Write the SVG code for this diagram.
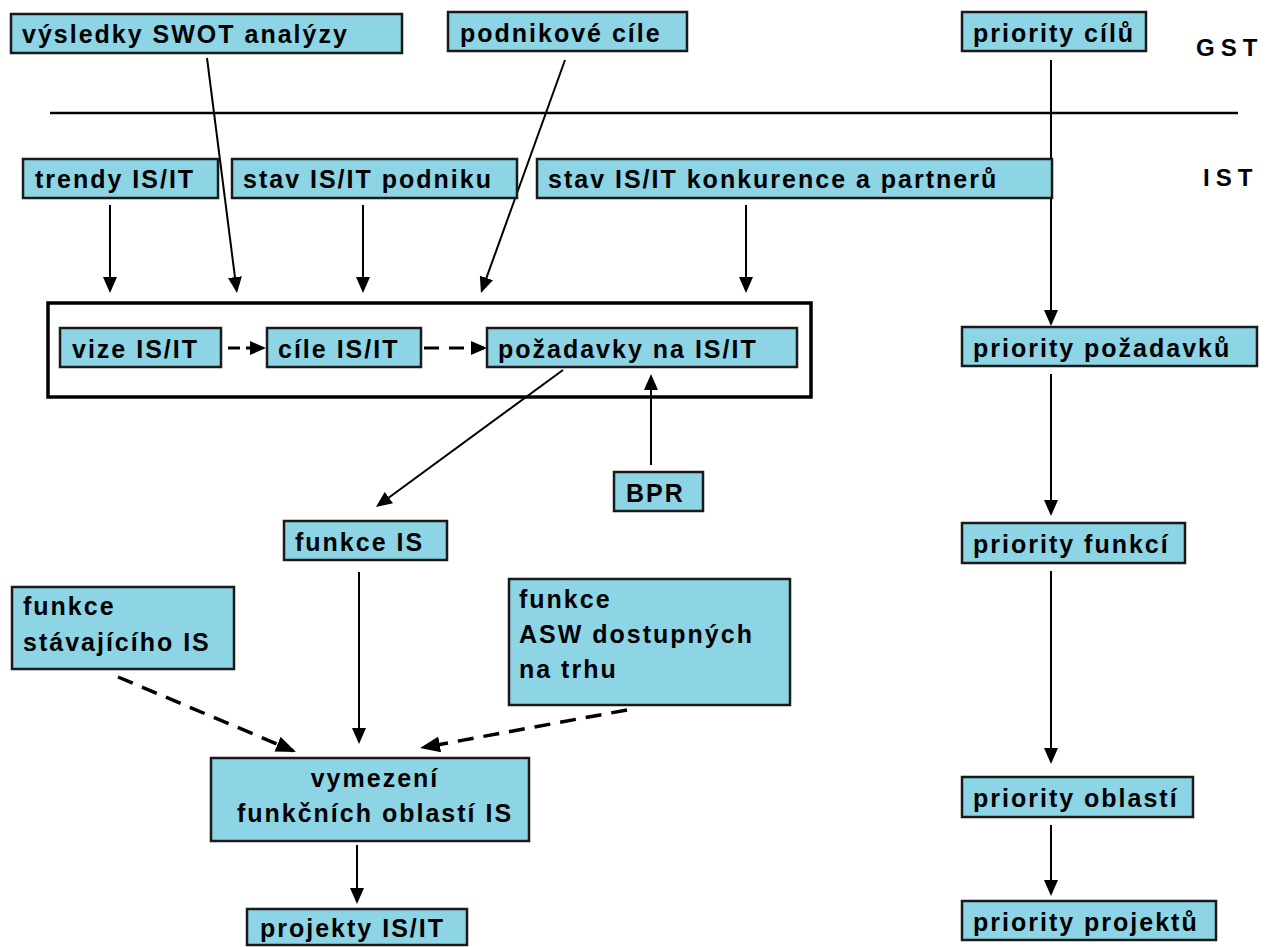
<svg xmlns="http://www.w3.org/2000/svg" width="1279" height="947" viewBox="0 0 1279 947">
  <style>
    .box { fill: #8DD4E5; stroke: #1a1a1a; stroke-width: 2.5; }
    .frame { fill: none; stroke: #000; stroke-width: 3.5; }
    .t { font-family: "Liberation Sans", Arial, sans-serif; font-weight: bold; font-size: 25px; letter-spacing: 2px; fill: #000; }
    .lbl { font-family: "Liberation Sans", Arial, sans-serif; font-weight: bold; font-size: 24px; letter-spacing: 6px; fill: #000; }
    .c { fill: none; stroke: #000; stroke-width: 2; marker-end: url(#ah); }
    .cd { fill: none; stroke: #000; stroke-width: 3; stroke-dasharray: 14 9; marker-end: url(#ah); }
    .cdb { fill: none; stroke: #000; stroke-width: 3.5; stroke-dasharray: 16 10; marker-end: url(#ahb); }
    .sep { stroke: #000; stroke-width: 2.5; }
  </style>
  <defs>
    <marker id="ah" viewBox="0 0 16 14" refX="13" refY="7" markerWidth="16" markerHeight="14" markerUnits="userSpaceOnUse" orient="auto">
      <path d="M0,0 L16,7 L0,14 Z" fill="#000"/>
    </marker>
    <marker id="ahb" viewBox="0 0 20 16" refX="17" refY="8" markerWidth="20" markerHeight="16" markerUnits="userSpaceOnUse" orient="auto">
      <path d="M0,0 L20,8 L0,16 Z" fill="#000"/>
    </marker>
  </defs>
  <rect width="1279" height="947" fill="#fff"/>

  <!-- level separator and level labels -->
  <line class="sep" x1="50" y1="113" x2="1238" y2="113"/>
  <text class="lbl" x="1196" y="56">GST</text>
  <text class="lbl" x="1203" y="186">IST</text>

  <!-- frame around vision / goals / requirements -->
  <rect class="frame" x="48" y="303" width="763" height="94"/>

  <g id="connectors">
    <line class="c" x1="207" y1="58" x2="236.6" y2="290"/>
    <line class="c" x1="565" y1="60" x2="482" y2="290.2"/>
    <line class="c" x1="110" y1="205" x2="110" y2="290"/>
    <line class="c" x1="363" y1="205" x2="363" y2="290"/>
    <line class="c" x1="746" y1="205" x2="746" y2="290"/>
    <line class="c" x1="1051" y1="60" x2="1051" y2="323"/>
    <line class="cd" x1="228" y1="348" x2="263" y2="348" style="stroke-dasharray: 12 6"/>
    <line class="cd" x1="424" y1="348" x2="484" y2="348" style="stroke-dasharray: 15 10"/>
    <line class="c" x1="563" y1="370" x2="378.4" y2="505.2"/>
    <line class="c" x1="651" y1="465" x2="651" y2="377"/>
    <line class="c" x1="359" y1="572" x2="359" y2="741"/>
    <line class="cdb" x1="118" y1="677" x2="293.2" y2="750.8"/>
    <line class="cdb" x1="627" y1="710" x2="423" y2="747.5"/>
    <line class="c" x1="357" y1="845" x2="357" y2="901"/>
    <line class="c" x1="1051" y1="374" x2="1051" y2="513"/>
    <line class="c" x1="1051" y1="571" x2="1051" y2="761"/>
    <line class="c" x1="1051" y1="825" x2="1051" y2="893"/>
  </g>

  <g id="swot">
    <rect class="box" x="11" y="14" width="391" height="39"/>
    <text class="t" x="22" y="43">výsledky SWOT analýzy</text>
  </g>
  <g id="podnikove-cile">
    <rect class="box" x="448" y="12" width="239" height="39"/>
    <text class="t" x="460" y="42">podnikové cíle</text>
  </g>
  <g id="priority-cilu">
    <rect class="box" x="962" y="12" width="184" height="39"/>
    <text class="t" x="973" y="42">priority cílů</text>
  </g>
  <g id="trendy">
    <rect class="box" x="23" y="159" width="195" height="39"/>
    <text class="t" x="35" y="188">trendy IS/IT</text>
  </g>
  <g id="stav-podniku">
    <rect class="box" x="232" y="159" width="285" height="39"/>
    <text class="t" x="243" y="188">stav IS/IT podniku</text>
  </g>
  <g id="stav-konkurence">
    <rect class="box" x="537" y="159" width="515" height="39"/>
    <text class="t" x="548" y="188">stav IS/IT konkurence a partnerů</text>
  </g>
  <g id="vize">
    <rect class="box" x="60" y="328" width="161" height="39"/>
    <text class="t" x="72" y="358">vize IS/IT</text>
  </g>
  <g id="cile">
    <rect class="box" x="267" y="328" width="154" height="39"/>
    <text class="t" x="278" y="358">cíle IS/IT</text>
  </g>
  <g id="pozadavky">
    <rect class="box" x="487" y="328" width="310" height="39"/>
    <text class="t" x="498" y="358">požadavky na IS/IT</text>
  </g>
  <g id="bpr">
    <rect class="box" x="614" y="472" width="89" height="39"/>
    <text class="t" x="626" y="502">BPR</text>
  </g>
  <g id="funkce-is">
    <rect class="box" x="284" y="521" width="163" height="39"/>
    <text class="t" x="295" y="551">funkce IS</text>
  </g>
  <g id="funkce-stavajiciho">
    <rect class="box" x="12" y="587" width="222" height="82"/>
    <text class="t" x="23" y="615">funkce</text>
    <text class="t" x="23" y="651">stávajícího IS</text>
  </g>
  <g id="funkce-asw">
    <rect class="box" x="509" y="579" width="281" height="126"/>
    <text class="t" x="519" y="608">funkce</text>
    <text class="t" x="519" y="643">ASW dostupných</text>
    <text class="t" x="519" y="678">na trhu</text>
  </g>
  <g id="vymezeni">
    <rect class="box" x="211" y="758" width="318" height="83"/>
    <text class="t" x="375" y="787" text-anchor="middle">vymezení</text>
    <text class="t" x="375" y="822" text-anchor="middle">funkčních oblastí IS</text>
  </g>
  <g id="projekty">
    <rect class="box" x="247" y="909" width="220" height="36"/>
    <text class="t" x="260" y="937">projekty IS/IT</text>
  </g>
  <g id="priority-pozadavku">
    <rect class="box" x="962" y="327" width="295" height="39"/>
    <text class="t" x="973" y="357">priority požadavků</text>
  </g>
  <g id="priority-funkci">
    <rect class="box" x="962" y="523" width="223" height="40"/>
    <text class="t" x="973" y="553">priority funkcí</text>
  </g>
  <g id="priority-oblasti">
    <rect class="box" x="962" y="777" width="231" height="40"/>
    <text class="t" x="973" y="807">priority oblastí</text>
  </g>
  <g id="priority-projektu">
    <rect class="box" x="962" y="901" width="254" height="39"/>
    <text class="t" x="973" y="931">priority projektů</text>
  </g>
</svg>
